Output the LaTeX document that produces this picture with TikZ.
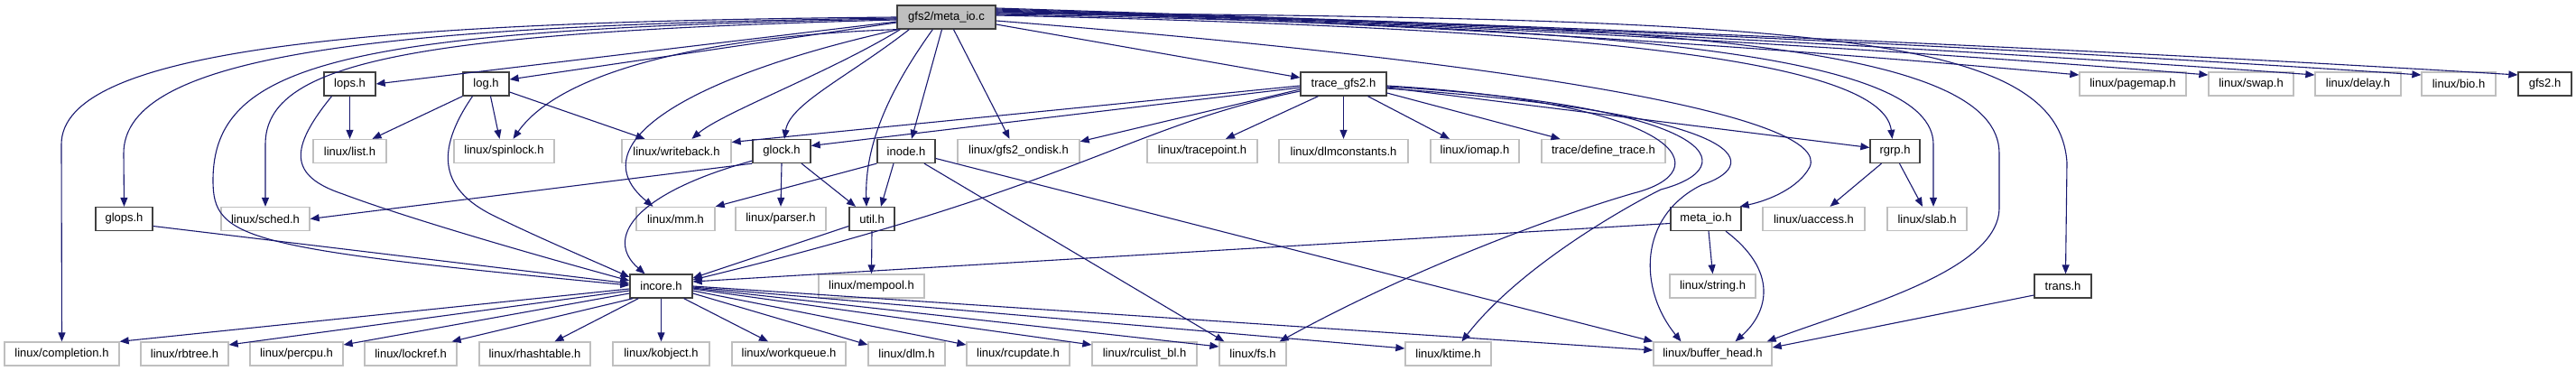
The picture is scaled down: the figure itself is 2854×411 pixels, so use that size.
\documentclass[tikz,border=0pt]{standalone}
\usepackage{fontspec}
\setmainfont{Liberation Sans}
\usetikzlibrary{arrows.meta}
\definecolor{edgecol}{HTML}{191970}
\definecolor{sysgray}{HTML}{BFBFBF}
\definecolor{localdark}{HTML}{404040}
\newcommand{\nodefnt}{\fontsize{13}{15}\selectfont}
\tikzset{
  box/.style={draw, line width=1.3pt, minimum height=26pt, inner sep=0pt, font=\nodefnt, fill=white, anchor=center},
  sys/.style={box, draw=sysgray},
  loc/.style={box, draw=localdark},
  rootbox/.style={box, draw=localdark, fill=sysgray},
  edge/.style={draw=edgecol, line width=1.1pt, -{Triangle[length=10pt,width=8pt]}},
}
\begin{document}
\begin{tikzpicture}[x=1pt,y=-1pt]
\fill[white] (0,0) rectangle (2854,411);
\useasboundingbox (0,0) rectangle (2854,411);
% row 0
\node[rootbox, minimum width=109pt] (M) at (1048.5,19) {gfs2/meta\_io.c};
% row 1
\node[loc, minimum width=57pt] (lops) at (387.5,93) {lops.h};
\node[loc, minimum width=51pt] (log) at (538.5,93) {log.h};
\node[loc, minimum width=95pt] (T) at (1488.5,93) {trace\_gfs2.h};
\node[sys, minimum width=118pt] (pagemap) at (2363,93) {linux/pagemap.h};
\node[sys, minimum width=94pt] (swap) at (2494,93) {linux/swap.h};
\node[sys, minimum width=95pt] (delay) at (2612.5,93) {linux/delay.h};
\node[sys, minimum width=82pt] (bio) at (2724,93) {linux/bio.h};
\node[loc, minimum width=59pt] (gfs2) at (2819.5,93) {gfs2.h};
% row 2
\node[sys, minimum width=81pt] (list) at (387.5,167.5) {linux/list.h};
\node[sys, minimum width=111pt] (spinlock) at (558.5,167.5) {linux/spinlock.h};
\node[sys, minimum width=121pt] (writeback) at (749.5,167.5) {linux/writeback.h};
\node[loc, minimum width=64pt] (glock) at (866,167.5) {glock.h};
\node[loc, minimum width=64pt] (inode) at (1004,167.5) {inode.h};
\node[sys, minimum width=135pt] (ondisk) at (1128.5,167.5) {linux/gfs2\_ondisk.h};
\node[sys, minimum width=122pt] (tracepoint) at (1332,167.5) {linux/tracepoint.h};
\node[sys, minimum width=143pt] (dlmconst) at (1488.5,167.5) {linux/dlmconstants.h};
\node[sys, minimum width=98pt] (iomap) at (1634,167.5) {linux/iomap.h};
\node[sys, minimum width=137pt] (deftrace) at (1776.5,167.5) {trace/define\_trace.h};
\node[loc, minimum width=55pt] (rgrp) at (2099.5,167.5) {rgrp.h};
% row 3
\node[loc, minimum width=63pt] (glops) at (137.5,242.5) {glops.h};
\node[sys, minimum width=98pt] (sched) at (294,242.5) {linux/sched.h};
\node[sys, minimum width=87pt] (mm) at (748.5,242.5) {linux/mm.h};
\node[sys, minimum width=100pt] (parser) at (865,242.5) {linux/parser.h};
\node[loc, minimum width=50pt] (util) at (966,242.5) {util.h};
\node[loc, minimum width=78pt] (metah) at (1890,242.5) {meta\_io.h};
\node[sys, minimum width=113pt] (uaccess) at (2009.5,242.5) {linux/uaccess.h};
\node[sys, minimum width=88pt] (slab) at (2135,242.5) {linux/slab.h};
% row 4
\node[loc, minimum width=69pt] (incore) at (732.5,317) {incore.h};
\node[sys, minimum width=117pt] (mempool) at (965.5,317) {linux/mempool.h};
\node[sys, minimum width=95pt] (string) at (1897.5,317) {linux/string.h};
\node[loc, minimum width=63pt] (trans) at (2285.5,317) {trans.h};
% row 5
\node[sys, minimum width=127pt] (completion) at (68.5,392) {linux/completion.h};
\node[sys, minimum width=97pt] (rbtree) at (204.5,392) {linux/rbtree.h};
\node[sys, minimum width=103pt] (percpu) at (328.5,392) {linux/percpu.h};
\node[sys, minimum width=102pt] (lockref) at (455,392) {linux/lockref.h};
\node[sys, minimum width=123pt] (rhash) at (592.5,392) {linux/rhashtable.h};
\node[sys, minimum width=107pt] (kobject) at (732.5,392) {linux/kobject.h};
\node[sys, minimum width=126pt] (workqueue) at (874,392) {linux/workqueue.h};
\node[sys, minimum width=85pt] (dlm) at (1004.5,392) {linux/dlm.h};
\node[sys, minimum width=114pt] (rcupdate) at (1128,392) {linux/rcupdate.h};
\node[sys, minimum width=116pt] (rculist) at (1268,392) {linux/rculist\_bl.h};
\node[sys, minimum width=74pt] (fs) at (1388,392) {linux/fs.h};
\node[sys, minimum width=95pt] (ktime) at (1604.5,392) {linux/ktime.h};
\node[sys, minimum width=131pt] (bh) at (1897.5,392) {linux/buffer\_head.h};

% ---- edges from gfs2/meta_io.c
\draw[edge] (M.west) .. controls (400,24) and (68,55) .. (68,160) -- (completion.north);
\draw[edge] ([yshift=-1pt]M.west) .. controls (420,28) and (137,60) .. (137,170) -- (glops.north);
\draw[edge] ([yshift=-2pt]M.west) .. controls (380,32) and (236,70) .. (236,200) .. controls (236,265) and (270,275) .. ([yshift=1pt]incore.west);
\draw[edge] ([yshift=-3pt]M.west) .. controls (450,36) and (294,70) .. (294,160) -- (sched.north);
\draw[edge] ([yshift=-5pt]M.west) -- (lops.east);
\draw[edge] ([yshift=-6pt]M.west) -- ([yshift=5pt]log.east);
\draw[edge] (M.south west) .. controls (780,40) and (620,80) .. ([xshift=10pt]spinlock.north);
\draw[edge] ([xshift=2pt]M.south west) .. controls (760,85) and (640,160) .. ([xshift=-25pt]mm.north);
\draw[edge] ([xshift=4pt]M.south west) .. controls (920,80) and (800,125) .. ([xshift=17pt]writeback.north);
\draw[edge] ([xshift=14pt]M.south west) .. controls (940,85) and (875,115) .. ([xshift=3pt]glock.north);
\draw[edge] ([xshift=40pt]M.south west) .. controls (985,100) and (958,160) .. ([xshift=-6pt]util.north);
\draw[edge] ([xshift=-5pt]M.south) -- ([xshift=6pt]inode.north);
\draw[edge] ([xshift=8pt]M.south) -- ([xshift=-10pt]ondisk.north);
\draw[edge] ([yshift=-8pt]M.east) -- ([yshift=7pt]T.west);
\draw[edge] ([yshift=-4pt]M.east) .. controls (1700,70) and (2030,130) .. (2005,185) .. controls (1993,208) and (1960,222) .. ([xshift=-2pt]metah.north east);
\draw[edge] ([yshift=2pt]M.east) .. controls (1700,30) and (2085,60) .. ([xshift=-3pt]rgrp.north);
\draw[edge] ([yshift=3pt]M.east) .. controls (1800,28) and (2142,60) .. (2142,160) -- ([xshift=7pt]slab.north);
\draw[edge] ([yshift=4pt]M.east) .. controls (1850,24) and (2215,50) .. (2215,170) -- (2215,230) .. controls (2215,300) and (2060,340) .. ([xshift=-6pt]bh.north east);
\draw[edge] ([yshift=5pt]M.east) .. controls (2000,20) and (2280,35) .. (2290,180) -- ([xshift=3pt]trans.north);
\draw[edge] ([yshift=6pt]M.east) .. controls (1503,23) and (1904,47) .. ([yshift=10pt]pagemap.west);
\draw[edge] ([yshift=7pt]M.east) .. controls (1551,24) and (1999,47) .. ([yshift=10pt]swap.west);
\draw[edge] ([yshift=8pt]M.east) .. controls (1590,25) and (2078,48) .. ([yshift=10pt]delay.west);
\draw[edge] ([yshift=9pt]M.east) .. controls (1630,26) and (2156,48) .. ([yshift=10pt]bio.west);
\draw[edge] ([yshift=10pt]M.east) .. controls (1665,27) and (2228,49) .. ([yshift=10pt]gfs2.west);

% ---- edges from trace_gfs2.h
\draw[edge] ([yshift=-2pt]T.west) -- ([yshift=10pt]writeback.east);
\draw[edge] ([yshift=-4pt]T.west) -- ([yshift=6pt]glock.east);
\draw[edge] ([yshift=-6pt]T.west) -- ([yshift=-3pt]ondisk.north east);
\draw[edge] ([yshift=-8pt]T.west) .. controls (1250,140) and (1200,205) .. ([yshift=7pt]incore.east);
\draw[edge] ([xshift=-28pt]T.south) -- ([xshift=26pt]tracepoint.north);
\draw[edge] (T.south) -- (dlmconst.north);
\draw[edge] ([xshift=27pt]T.south) -- ([xshift=-28pt]iomap.north);
\draw[edge] ([yshift=-10pt]T.east) -- ([xshift=-48pt]deftrace.north);
\draw[edge] ([yshift=-4pt]T.east) -- ([yshift=4pt]rgrp.west);
\draw[edge] ([yshift=-2pt]T.east) .. controls (1870,115) and (1905,190) .. (1810,214) .. controls (1720,240) and (1560,300) .. ([xshift=-8pt]fs.north east);
\draw[edge] ([yshift=-3pt]T.east) .. controls (1905,118) and (1935,185) .. (1840,210) .. controls (1790,235) and (1680,300) .. ([xshift=15pt]ktime.north);
\draw[edge] ([yshift=-5pt]T.east) .. controls (1930,125) and (1960,180) .. (1885,205) .. controls (1815,240) and (1815,320) .. ([xshift=-35pt]bh.north);

% ---- lops.h, log.h
\draw[edge] (lops.south) -- (list.north);
\draw[edge] ([xshift=-20pt]lops.south) .. controls (320,165) and (320,195) .. (380,215) .. controls (460,245) and (620,290) .. ([yshift=6pt]incore.west);
\draw[edge] (log.south west) -- ([xshift=25pt]list.north);
\draw[edge] ([xshift=5pt]log.south) -- ([xshift=-5pt]spinlock.north);
\draw[edge] ([yshift=-9pt]log.east) -- ([xshift=-35pt]writeback.north);
\draw[edge] ([xshift=-15pt]log.south) .. controls (480,170) and (490,210) .. (545,238) .. controls (600,265) and (660,290) .. ([yshift=10pt]incore.west);

% ---- glops.h, glock.h, inode.h, util.h
\draw[edge] ([yshift=-8pt]glops.east) -- ([yshift=3pt]incore.west);
\draw[edge] (glock.south west) -- (sched.east);
\draw[edge] ([yshift=3pt]glock.south west) .. controls (700,215) and (670,265) .. ([xshift=-18pt]incore.north);
\draw[edge] (glock.south) -- (parser.north);
\draw[edge] ([xshift=22pt]glock.south) -- ([xshift=-18pt]util.north);
\draw[edge] (inode.south west) -- (mm.north east);
\draw[edge] ([xshift=-14pt]inode.south) -- ([xshift=10pt]util.north);
\draw[edge] ([xshift=20pt]inode.south) -- ([xshift=6pt]fs.north west);
\draw[edge] ([yshift=-8pt]inode.east) -- (bh.north west);
\draw[edge] ([yshift=-8pt]util.west) -- ([yshift=9pt]incore.east);
\draw[edge] (util.south) -- (mempool.north);

% ---- meta_io.h, rgrp.h, trans.h
\draw[edge] ([yshift=-5pt]metah.west) -- ([yshift=5pt]incore.east);
\draw[edge] ([xshift=3pt]metah.south) -- (string.north);
\draw[edge] ([xshift=22pt]metah.south) .. controls (1970,300) and (1960,345) .. ([xshift=25pt]bh.north);
\draw[edge] ([xshift=-15pt]rgrp.south) -- ([xshift=18pt]uaccess.north);
\draw[edge] ([xshift=5pt]rgrp.south) -- ([xshift=-5pt]slab.north);
\draw[edge] ([yshift=-10pt]trans.west) -- ([yshift=7pt]bh.east);

% ---- incore.h
\draw[edge] ([yshift=-3pt]incore.west) -- (completion.north east);
\draw[edge] ([yshift=-5pt]incore.west) -- ([yshift=10pt]rbtree.east);
\draw[edge] ([yshift=-8pt]incore.west) -- ([yshift=10pt]percpu.east);
\draw[edge] ([xshift=4pt]incore.south west) -- ([xshift=-6pt]lockref.north east);
\draw[edge] ([xshift=10pt]incore.south west) -- ([xshift=22pt]rhash.north);
\draw[edge] (incore.south) -- (kobject.north);
\draw[edge] ([xshift=-10pt]incore.south east) -- ([xshift=-23pt]workqueue.north);
\draw[edge] ([yshift=-8pt]incore.east) -- ([yshift=10pt]dlm.west);
\draw[edge] ([yshift=-5pt]incore.east) -- ([yshift=10pt]rcupdate.west);
\draw[edge] ([yshift=-3pt]incore.east) -- ([yshift=10pt]rculist.west);
\draw[edge] ([yshift=-2pt]incore.east) -- ([yshift=8pt]fs.west);
\draw[edge] ([yshift=-1pt]incore.east) -- ([yshift=6pt]ktime.west);
\draw[edge] (incore.east) -- ([yshift=4pt]bh.west);
\end{tikzpicture}
\end{document}
